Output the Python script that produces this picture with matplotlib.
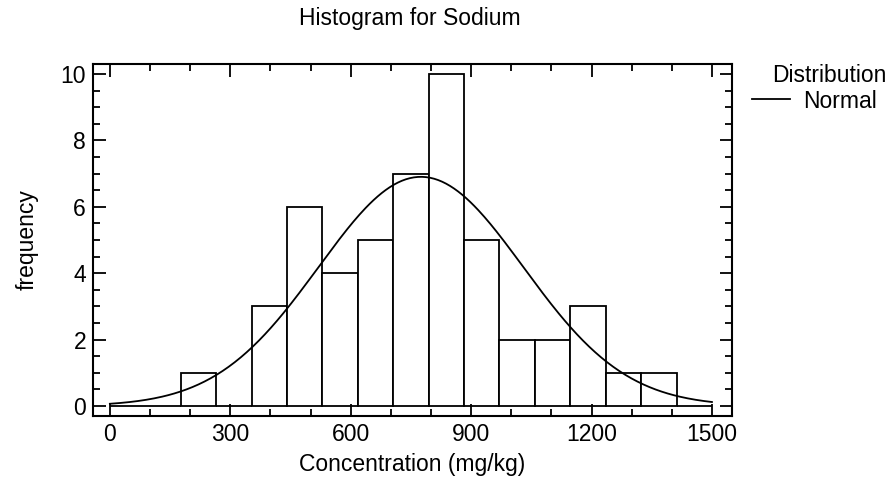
import matplotlib
matplotlib.use("Agg")
import matplotlib.pyplot as plt
import numpy as np
from matplotlib.ticker import MultipleLocator

plt.rcParams["font.family"] = ["Liberation Sans", "DejaVu Sans"]
FS = 16.5

# histogram of sodium concentration, 17 equal bins over 0..1500
bin_edges = np.linspace(0, 1500, 18)
counts = [0, 0, 1, 0, 3, 6, 4, 5, 7, 10, 5, 2, 2, 3, 1, 1, 0]

# fitted normal distribution
fit_mean = 775.0
fit_std = 255.0


def main() -> None:
    fig = plt.figure(figsize=(8.91, 4.87), dpi=100)
    ax = fig.add_axes([93 / 891, 1 - 416 / 487, (732 - 93) / 891, (416 - 64) / 487])

    widths = np.diff(bin_edges)
    ax.bar(bin_edges[:-1], counts, width=widths, align="edge",
           facecolor="white", edgecolor="black", linewidth=1.3)

    n = sum(counts)
    xs = np.linspace(0, 1500, 300)
    pdf = np.exp(-0.5 * ((xs - fit_mean) / fit_std) ** 2) / (fit_std * np.sqrt(2 * np.pi))
    line, = ax.plot(xs, pdf * n * widths[0], color="black", linewidth=1.3)

    ax.set_xlim(-42, 1550)
    ax.set_ylim(-0.3, 10.3)
    ax.xaxis.set_major_locator(MultipleLocator(300))
    ax.xaxis.set_minor_locator(MultipleLocator(100))
    ax.yaxis.set_major_locator(MultipleLocator(2))
    ax.yaxis.set_minor_locator(MultipleLocator(0.5))
    ax.tick_params(which="both", direction="in", top=True, right=True,
                   labelsize=FS, width=1.3, pad=5)
    ax.tick_params(which="major", length=9)
    ax.tick_params(which="minor", length=5)
    for s in ax.spines.values():
        s.set_linewidth(1.5)

    ax.set_xlabel("Concentration (mg/kg)", fontsize=FS, labelpad=5)
    ax.set_ylabel("frequency", fontsize=FS, labelpad=16)
    fig.text(410 / 891, 1 - 25 / 487, "Histogram for Sodium", ha="center",
             va="baseline", fontsize=FS)

    # legend: heading plus one entry for the fitted curve
    fig.text(829 / 891, 1 - 75 / 487, "Distribution", ha="center",
             va="center", fontsize=FS)
    fig.legend([line], ["Normal"], loc="center left",
               bbox_to_anchor=(752 / 891, 1 - 101 / 487), frameon=False,
               fontsize=FS, handlelength=1.65, handletextpad=0.6,
               borderpad=0, borderaxespad=0)

    fig.savefig("out.png", dpi=100)


if __name__ == "__main__":
    main()
